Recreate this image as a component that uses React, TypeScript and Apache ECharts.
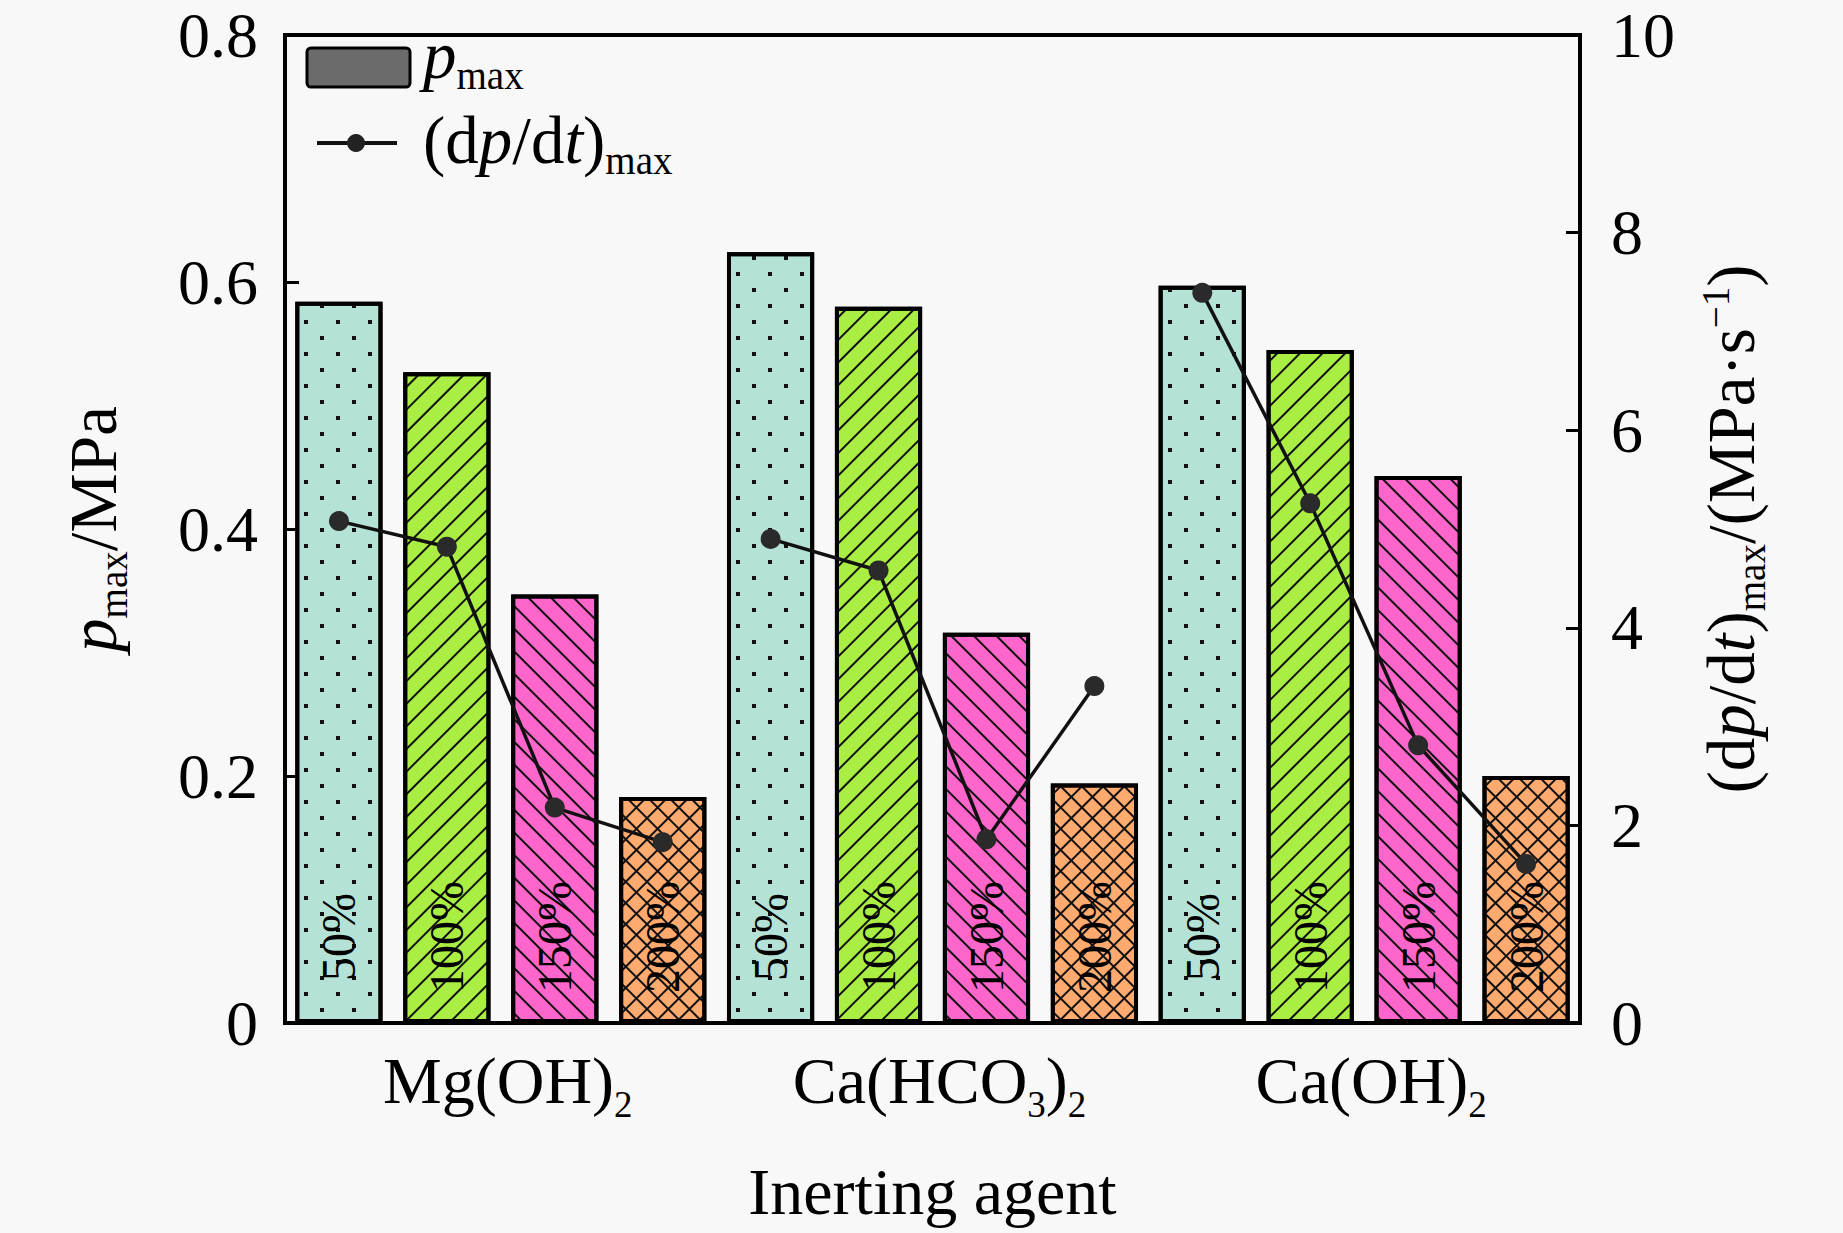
import React, { useEffect, useRef } from "react";
import * as echarts from "echarts";

// ---------- data ----------
const agents = ["Mg(OH)2", "Ca(HCO3)2", "Ca(OH)2"];
const ratios = ["50%", "100%", "150%", "200%"];

const pmax50 = [0.584, 0.624, 0.597];
const pmax100 = [0.527, 0.58, 0.545];
const pmax150 = [0.347, 0.316, 0.443];
const pmax200 = [0.183, 0.194, 0.2];

const dpdtMg = [5.08, 4.82, 2.18, 1.83];
const dpdtCaHCO3 = [4.9, 4.58, 1.86, 3.41];
const dpdtCaOH = [7.39, 5.26, 2.81, 1.61];

const leftMin = 0;
const leftMax = 0.8;
const leftStep = 0.2;
const rightMin = 0;
const rightMax = 10;
const rightStep = 2;

// ---------- styles ----------
const BG = "#f8f8f8";
const F = '"Liberation Serif", "Times New Roman", serif';
const barColors = ["#b4e2d6", "#aaee44", "#ff66cc", "#ffaa6e"];
const decals: any[] = [
  { symbol: "rect", symbolSize: 1, color: "#111", dashArrayX: [[4, 28], [0, 16, 4, 12]], dashArrayY: [4, 12], rotation: 0 },
  { symbol: "rect", symbolSize: 1, color: "#111", dashArrayX: [16, 0], dashArrayY: [2, 14], rotation: -Math.PI / 4 },
  { symbol: "rect", symbolSize: 1, color: "#111", dashArrayX: [16, 0], dashArrayY: [2, 14], rotation: Math.PI / 4 },
  { symbol: "rect", symbolSize: 1, color: "#111", dashArrayX: [[15, 0], [2, 13]], dashArrayY: [2, 0, 13, 0], rotation: Math.PI / 4 },
];

const mkRich = (main: number, sub: number, subH: number, supH: number) => ({
  n: { fontFamily: F, fontSize: main, lineHeight: main, color: "#000" },
  i: { fontFamily: F, fontSize: main, lineHeight: main, fontStyle: "italic", color: "#000" },
  s: { fontFamily: F, fontSize: sub, height: subH, lineHeight: subH, verticalAlign: "bottom", color: "#000" },
  u: { fontFamily: F, fontSize: sub, height: supH, lineHeight: supH, verticalAlign: "top", color: "#000" },
});
const titleRich = mkRich(67, 39, 26, 36);
const catRich = mkRich(66, 37, 17, 36);

const chem = (s: string) =>
  s
    .split(/(\d+)/)
    .filter((t) => t.length > 0)
    .map((t) => (/^\d+$/.test(t) ? `{s|${t}}` : `{n|${t}}`))
    .join("");

const pmaxSets = [pmax50, pmax100, pmax150, pmax200];
const dpdtSets = [dpdtMg, dpdtCaHCO3, dpdtCaOH];
const slots: string[] = [];
agents.forEach((a) => ratios.forEach((r) => slots.push(a + " " + r)));

const buildOption = () => {
  const barSeries = ratios.map((r, k) => ({
    type: "bar",
    name: r,
    data: pmaxSets[k],
    xAxisIndex: 0,
    yAxisIndex: 0,
    barWidth: "20.2%",
    barGap: "23.8%",
    itemStyle: { color: barColors[k], borderColor: "#000", borderWidth: 4, decal: decals[k] },
    label: {
      show: true,
      position: "insideBottom",
      distance: 86,
      rotate: 90,
      align: "center",
      verticalAlign: "middle",
      formatter: r,
      fontFamily: F,
      fontSize: 48,
      color: "#000",
    },
    emphasis: { disabled: true },
    z: 2,
  }));
  const lineSeries = dpdtSets.map((vals, g) => ({
    type: "line",
    name: "(dp/dt)max " + agents[g],
    xAxisIndex: 1,
    yAxisIndex: 1,
    data: slots.map((_, idx) => (Math.floor(idx / ratios.length) === g ? vals[idx % ratios.length] : null)),
    connectNulls: false,
    symbol: "circle",
    symbolSize: 20,
    itemStyle: { color: "#2a2a2a" },
    lineStyle: { color: "#111", width: 3.5 },
    emphasis: { disabled: true },
    z: 10,
  }));

  const axisLineStyle = { show: true, lineStyle: { color: "#000", width: 4 } };
  const tickStyle = { show: true, inside: true, length: 14, lineStyle: { color: "#000", width: 3 } };

  return {
    animation: false,
    backgroundColor: BG,
    grid: {
      left: 285,
      right: 263,
      top: 35,
      bottom: 210,
      show: true,
      borderColor: "#000",
      borderWidth: 4,
      backgroundColor: "transparent",
      containLabel: false,
      outerBoundsMode: "none",
    },
    xAxis: [
      {
        type: "category",
        data: agents,
        axisLine: axisLineStyle,
        axisTick: { show: false },
        axisLabel: { margin: 24, padding: [0, 0, 0, 14], formatter: (v: string) => chem(v), rich: catRich, color: "#000" },
        splitLine: { show: false },
        name: "Inerting agent",
        nameLocation: "middle",
        nameGap: 135,
        nameMoveOverlap: false,
        nameTextStyle: { fontFamily: F, fontSize: 66, lineHeight: 66, color: "#000" },
      },
      { type: "category", data: slots, show: false, boundaryGap: true },
    ],
    yAxis: [
      {
        type: "value",
        position: "left",
        min: leftMin,
        max: leftMax,
        interval: leftStep,
        axisLine: axisLineStyle,
        axisTick: tickStyle,
        splitLine: { show: false },
        axisLabel: {
          margin: 27,
          fontFamily: F,
          fontSize: 64,
          color: "#000",
          formatter: (v: number) => (v === 0 ? "0" : v.toFixed(1)),
        },
        name: "{i|p}{s|max}{n|/MPa}",
        nameLocation: "middle",
        nameRotate: 90,
        nameGap: 159,
        nameMoveOverlap: false,
        nameTextStyle: { rich: titleRich, lineHeight: 67 },
      },
      {
        type: "value",
        position: "right",
        min: rightMin,
        max: rightMax,
        interval: rightStep,
        axisLine: axisLineStyle,
        axisTick: tickStyle,
        splitLine: { show: false },
        axisLabel: { margin: 31, fontFamily: F, fontSize: 64, color: "#000", formatter: (v: number) => String(v) },
        name: "{n|(d}{i|p}{n|/d}{i|t}{n|)}{s|max}{n|/(MPa\u00b7s}{u|\u22121}{n|)}",
        nameLocation: "middle",
        nameRotate: 90,
        nameGap: 117,
        nameMoveOverlap: false,
        nameTextStyle: { rich: titleRich, lineHeight: 67 },
      },
    ],
    graphic: [
      {
        type: "rect",
        z: 100,
        shape: { x: 307, y: 48, width: 103, height: 39, r: 4 },
        style: { fill: "#6b6b6b", stroke: "#000", lineWidth: 3 },
      },
      {
        type: "text",
        z: 100,
        x: 423,
        y: 55,
        style: { text: "{i|p}{s|max}", rich: titleRich, align: "left", verticalAlign: "middle", lineHeight: 67 },
      },
      {
        type: "line",
        z: 100,
        shape: { x1: 317, y1: 143, x2: 397, y2: 143 },
        style: { stroke: "#111", lineWidth: 4 },
      },
      {
        type: "circle",
        z: 101,
        shape: { cx: 356, cy: 143, r: 9 },
        style: { fill: "#222" },
      },
      {
        type: "text",
        z: 100,
        x: 423,
        y: 140,
        style: {
          text: "{n|(d}{i|p}{n|/d}{i|t}{n|)}{s|max}",
          rich: titleRich,
          align: "left",
          verticalAlign: "middle",
          lineHeight: 67,
        },
      },
    ],
    series: [...barSeries, ...lineSeries],
  };
};

export default function App() {
  const ref = useRef<HTMLDivElement>(null);
  useEffect(() => {
    document.body.style.margin = "0";
    document.body.style.background = BG;
    const chart = echarts.init(ref.current as HTMLDivElement, null, { renderer: "svg" });
    chart.setOption(buildOption() as any);
    return () => chart.dispose();
  }, []);
  return <div ref={ref} style={{ width: 1843, height: 1233 }} />;
}
